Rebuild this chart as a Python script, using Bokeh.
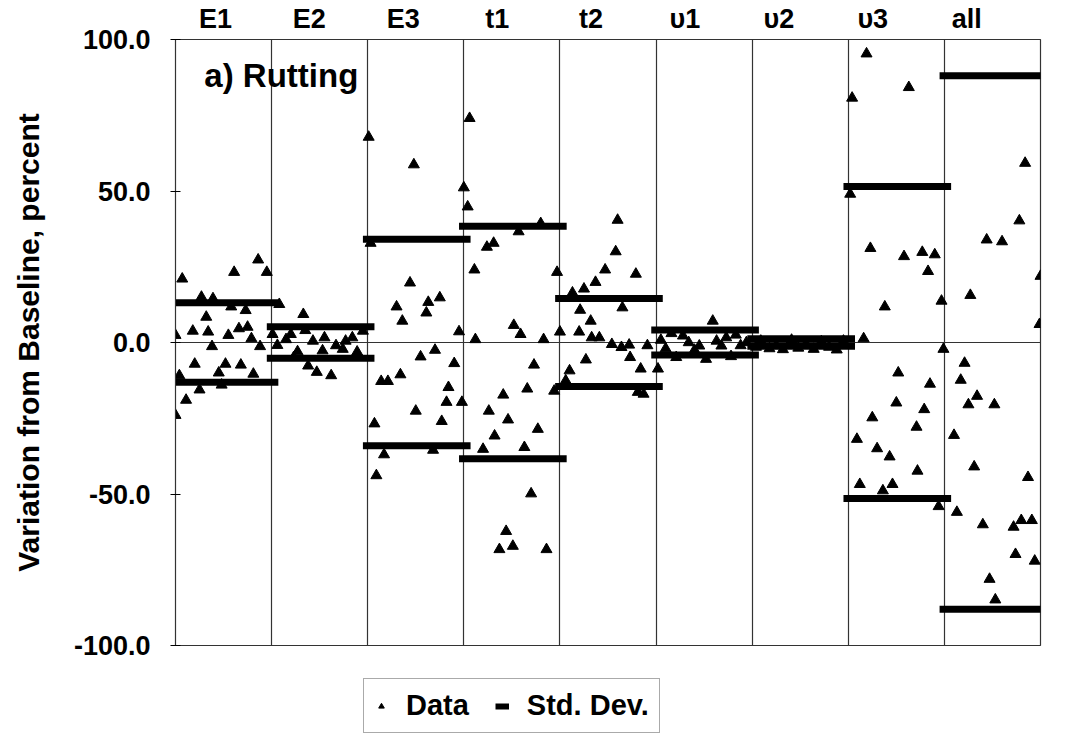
from bokeh.plotting import figure
from bokeh.layouts import column
from bokeh.models import (ColumnDataSource, FixedTicker, LinearAxis, Legend, LegendItem,
                          Label, NumeralTickFormatter, Range1d)
from bokeh.embed import file_html
from bokeh.resources import INLINE

# ---------------- data ----------------
categories = ["E1", "E2", "E3", "t1", "t2", "υ1", "υ2", "υ3", "all"]

# position of each sample inside its category (0..1) and its variation from baseline (%)
e1_pos = [0.00, 0.00, 0.04, 0.07, 0.11, 0.18, 0.20, 0.25, 0.27, 0.32, 0.34, 0.38, 0.39, 0.45,
          0.48, 0.52, 0.55, 0.58, 0.61, 0.66, 0.68, 0.73, 0.75, 0.79, 0.81, 0.86, 0.88, 0.95]
e1_val = [2.4, -24.0, -10.9, 21.0, -19.0, 3.8, -7.1, -15.6, 15.0, 8.4, 3.5, -1.3, 14.5, -10.0,
          -14.0, -7.1, 2.4, 11.8, 23.2, 4.6, -7.4, 10.6, 5.1, 1.3, -10.4, 27.3, -1.3, 23.2]

e2_pos = [0.01, 0.06, 0.08, 0.15, 0.20, 0.23, 0.27, 0.33, 0.35, 0.38, 0.43, 0.47, 0.53, 0.55,
          0.62, 0.67, 0.74, 0.77, 0.84, 0.89, 0.95]
e2_val = [2.7, -0.9, 12.6, 1.0, 2.7, -4.9, -3.0, 9.3, 4.0, -7.7, 0.5, -9.8, -2.7, 1.6,
          -10.9, -1.0, -2.2, 0.5, 1.6, -3.1, 3.8]

e3_pos = [0.01, 0.03, 0.07, 0.09, 0.14, 0.17, 0.21, 0.30, 0.34, 0.36, 0.44, 0.48, 0.50, 0.55,
          0.61, 0.63, 0.68, 0.70, 0.75, 0.77, 0.82, 0.84, 0.90, 0.95, 0.98]
e3_val = [67.8, 32.8, -26.8, -43.9, -12.8, -37.0, -12.8, 11.8, -10.6, 7.1, 19.7, 58.7, -22.6, -4.7,
          9.8, 13.3, -35.5, -2.5, 14.8, -26.0, -19.7, -14.8, -6.9, 3.6, -19.7]

t1_pos = [0.00, 0.04, 0.06, 0.11, 0.12, 0.20, 0.24, 0.26, 0.31, 0.32, 0.37, 0.41, 0.44, 0.46,
          0.51, 0.52, 0.57, 0.59, 0.63, 0.66, 0.70, 0.73, 0.77, 0.80, 0.83, 0.86, 0.94, 0.97]
t1_val = [51.1, 44.8, 74.0, 24.0, 1.0, -35.2, 31.5, -22.6, 32.8, -30.8, -68.3, -17.3, -62.3, -25.5,
          -67.2, 5.7, 36.6, 2.7, -34.6, -15.3, -49.9, -7.4, -28.6, 39.3, 1.0, -68.3, -16.0, 23.2]

t2_pos = [0.00, 0.06, 0.10, 0.13, 0.20, 0.21, 0.25, 0.27, 0.32, 0.33, 0.37, 0.41, 0.47, 0.54,
          0.58, 0.60, 0.64, 0.65, 0.72, 0.73, 0.79, 0.81, 0.84, 0.87, 0.91]
t2_val = [3.5, -12.6, -9.3, 16.4, 3.5, 10.7, 17.7, -5.7, 7.1, 1.6, 19.9, 1.6, 24.0, -0.6,
          30.0, 40.4, -1.6, 11.5, -0.8, -4.9, 22.6, -16.4, -8.7, -17.0, -1.0]

u1_pos = [0.02, 0.05, 0.10, 0.16, 0.21, 0.28, 0.34, 0.40, 0.45, 0.52, 0.59, 0.63, 0.68, 0.73,
          0.78, 0.83, 0.88, 0.94]
u1_val = [-8.7, 0.8, -2.0, 3.0, -4.9, 2.2, 0.0, -2.5, -1.1, -5.5, 7.1, 0.5, -1.1, 1.6,
          -4.6, 2.5, -1.0, 0.0]

u2_pos = [0.04, 0.09, 0.18, 0.25, 0.32, 0.41, 0.48, 0.56, 0.64, 0.72, 0.80, 0.88, 0.95]
u2_val = [-1.5, 0.5, -2.0, -1.0, -2.3, 0.8, -1.8, -0.5, -2.2, 0.3, -1.5, -2.4, 0.5]

u3_pos = [0.02, 0.04, 0.09, 0.12, 0.16, 0.19, 0.23, 0.25, 0.30, 0.36, 0.38, 0.43, 0.46, 0.50,
          0.52, 0.58, 0.63, 0.71, 0.72, 0.77, 0.79, 0.83, 0.85, 0.90, 0.94, 0.97, 0.99]
u3_val = [49.0, 80.7, -31.9, -46.8, 1.3, 95.3, 31.1, -24.8, -35.0, -48.9, 11.8, -37.7, -46.8, -19.9,
          -10.0, 28.4, 84.2, -27.9, -42.4, 29.8, -22.1, 23.5, -13.7, 29.0, -54.1, 13.7, -2.2]

all_pos = [0.10, 0.13, 0.17, 0.21, 0.25, 0.27, 0.31, 0.34, 0.40, 0.44, 0.47, 0.52, 0.53, 0.60,
           0.72, 0.74, 0.78, 0.80, 0.84, 0.87, 0.91, 0.94, 0.99, 1.00]
all_val = [-30.6, -56.0, -12.4, -6.8, -20.5, 15.6, -41.0, -17.7, -60.1, 33.9, -78.1, -20.5, -84.9, 33.3,
           -60.9, -69.9, 40.2, -58.7, 59.2, -44.5, -58.7, -72.1, 6.0, 21.9]

std_dev = [13.1, 5.2, 34.1, 38.4, 14.5, 4.1, 1.2, 51.5, 88.0]

group_pos = [e1_pos, e2_pos, e3_pos, t1_pos, t2_pos, u1_pos, u2_pos, u3_pos, all_pos]
group_val = [e1_val, e2_val, e3_val, t1_val, t2_val, u1_val, u2_val, u3_val, all_val]

# ---------------- build sources ----------------
xs, ys = [], []
for i, (ps, vs) in enumerate(zip(group_pos, group_val)):
    for p_, v_ in zip(ps, vs):
        xs.append(i + p_)
        ys.append(v_)
pts = ColumnDataSource(dict(x=xs, y=ys))

sx0, sx1, sy = [], [], []
for i, s in enumerate(std_dev):
    for sign in (1, -1):
        sx0.append(i - 0.05)
        sx1.append(i + 1.07)
        sy.append(sign * s)
bars = ColumnDataSource(dict(x0=sx0, x1=sx1, y=sy))

FONT = "Liberation Sans"

p = figure(width=1060, height=670, output_backend="svg", toolbar_location=None,
           x_range=Range1d(0, 9), y_range=Range1d(-100, 100),
           min_border_left=175, min_border_right=20, min_border_top=35, min_border_bottom=25,
           x_axis_location=None)
p.background_fill_color = "white"
p.border_fill_color = "white"
p.outline_line_color = "#333333"
p.outline_line_width = 1.2

# grid: separators between categories and zero line
p.xgrid.ticker = FixedTicker(ticks=list(range(1, 9)))
p.xgrid.grid_line_color = "#333333"
p.xgrid.grid_line_width = 1.2
p.ygrid.ticker = FixedTicker(ticks=[0])
p.ygrid.grid_line_color = "#333333"
p.ygrid.grid_line_width = 1.2

# y axis
p.yaxis.ticker = FixedTicker(ticks=[-100, -50, 0, 50, 100])
p.yaxis.formatter = NumeralTickFormatter(format="0.0")
p.yaxis.axis_label = "Variation from Baseline, percent"
p.yaxis.axis_label_text_font = FONT
p.yaxis.axis_label_text_font_style = "bold"
p.yaxis.axis_label_text_font_size = "30px"
p.yaxis.axis_label_text_color = "black"
p.yaxis.axis_label_standoff = 26
p.yaxis.major_label_text_font = FONT
p.yaxis.major_label_text_font_style = "bold"
p.yaxis.major_label_text_font_size = "27px"
p.yaxis.major_label_text_color = "black"
p.yaxis.major_label_standoff = 20
p.yaxis.major_tick_in = 5
p.yaxis.major_tick_out = 5
p.yaxis.minor_tick_line_color = None
p.yaxis.axis_line_color = "#333333"

# top category axis
top_ticks = [i + 0.5 - (0.084 + 0.023 * i) for i in range(9)]
top = LinearAxis(ticker=FixedTicker(ticks=top_ticks))
top.major_label_overrides = {t: c for t, c in zip(top_ticks, categories)}
top.major_tick_line_color = None
top.minor_tick_line_color = None
top.axis_line_color = None
top.major_label_standoff = 0
top.major_label_text_font = FONT
top.major_label_text_font_style = "bold"
top.major_label_text_font_size = "27px"
top.major_label_text_color = "black"
p.add_layout(top, "above")

p.segment(x0="x0", x1="x1", y0="y", y1="y", source=bars, line_color="black", line_width=7)
p.scatter(x="x", y="y", source=pts, marker="triangle", size=11,
          fill_color="black", line_color="black")

p.add_layout(Label(x=0.30, y=88, text="a) Rutting", text_font=FONT, text_font_style="bold",
                   text_font_size="33px", text_baseline="middle", text_color="black"))

# ---------------- legend strip below the chart ----------------
lg = figure(width=1060, height=70, output_backend="svg", toolbar_location=None,
            x_range=Range1d(0, 1), y_range=Range1d(0, 1),
            min_border_left=175, min_border_right=20, min_border_top=0, min_border_bottom=0,
            x_axis_location=None, y_axis_location=None)
lg.outline_line_color = None
lg.xgrid.visible = False
lg.ygrid.visible = False
# legend swatches (kept outside the visible range of this strip)
lr_pts = lg.scatter(x=[-5], y=[-5], marker="triangle", size=9, fill_color="black", line_color="black")
lr_bar = lg.segment(x0=[-5], x1=[-4], y0=[-5], y1=[-5], line_color="black", line_width=6)

legend = Legend(items=[LegendItem(label="Data", renderers=[lr_pts]),
                       LegendItem(label="Std. Dev.", renderers=[lr_bar])],
                orientation="horizontal", location=(188, 7),
                label_text_font=FONT, label_text_font_style="bold", label_text_font_size="29px",
                label_text_color="black", label_standoff=18,
                glyph_width=14, glyph_height=22, spacing=26, padding=10, margin=0,
                border_line_color="#555555", border_line_width=1)
lg.add_layout(legend, "center")

layout = column(p, lg, spacing=0)
open("out.html", "w").write(file_html(layout, INLINE))
